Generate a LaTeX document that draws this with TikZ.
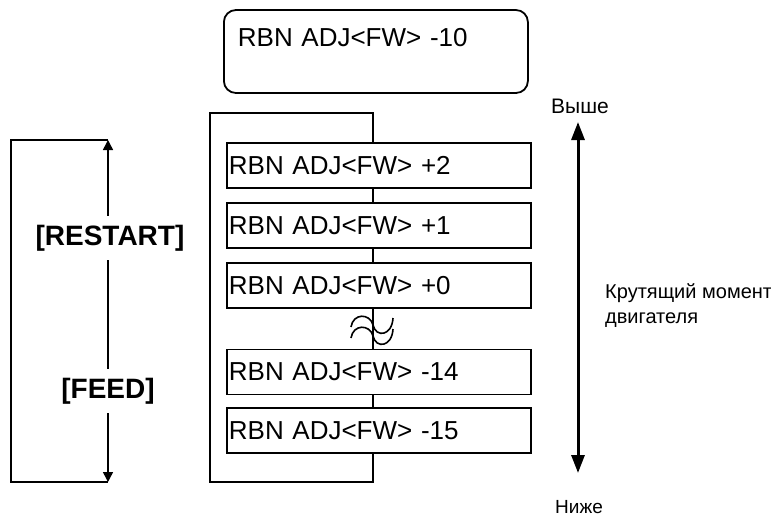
\documentclass[tikz,border=0pt]{standalone}
\usepackage{fontspec}
\setmainfont{Liberation Sans}
\usetikzlibrary{arrows.meta}
\begin{document}
\begin{tikzpicture}[x=1pt,y=-1pt,
  frameline/.style={line width=1.8pt},
  thinline/.style={line width=1.5pt},
  rbox/.style={draw, line width=1.8pt, fill=white, text width=300pt, align=left,
    inner xsep=2pt, inner ysep=0pt, minimum height=45pt,
    font=\fontsize{26}{30}\selectfont, anchor=west},
  topbox/.style={draw, line width=1.8pt, rounded corners=12pt, text width=276pt, align=left,
    inner xsep=14pt, inner ysep=0pt, text height=19pt, text depth=30pt, minimum height=83pt,
    font=\fontsize{26}{30}\selectfont, anchor=west},
  keylbl/.style={font=\fontsize{28}{32}\selectfont\bfseries, inner xsep=0pt, inner ysep=9pt, anchor=base},
  side/.style={font=\fontsize{20}{25}\selectfont, inner sep=0pt, anchor=base},
  smalltip/.tip={Triangle[width=10pt,length=10pt]},
  bigtip/.tip={Triangle[width=13pt,length=18pt]}]
\useasboundingbox (0,0) rectangle (771,517);

% top display
\node[topbox] (top) at (223,51.5) {RBN ADJ<FW> -10};

% frame coordinates
\coordinate (ftr) at (373,113);
\coordinate (ftl) at (210,113);
\coordinate (fbl) at (210,482);
\coordinate (fbr) at (373,482);

% boxes
\node[rbox] (b2) at (226,165.5) {RBN ADJ<FW> +2};
\node[rbox] (b1) at (226,225.5) {RBN ADJ<FW> +1};
\node[rbox] (b0) at (226,285.5) {RBN ADJ<FW> +0};
\node[rbox] (b14) at (226,372) {RBN ADJ<FW> -14};
\node[rbox] (b15) at (226,430.5) {RBN ADJ<FW> -15};

% frame and connectors
\draw[frameline] (b15.south -| fbr) -- (fbr) -- (fbl) -- (ftl) -- (ftr) -- (b2.north -| ftr);
\draw[frameline] (b2.south -| ftr) -- (b1.north -| ftr);
\draw[frameline] (b1.south -| ftr) -- (b0.north -| ftr);
\draw[frameline] (b0.south -| ftr) -- (b14.north -| ftr);
\draw[frameline] (b14.south -| ftr) -- (b15.north -| ftr);

% break symbol
\draw[line width=1.6pt] (351,327) .. controls (353,313) and (370,313) .. (373,325)
  .. controls (376,338) and (392,336) .. (393,318);
\draw[line width=1.6pt] (351,338) .. controls (353,324) and (370,324) .. (373,336)
  .. controls (376,349) and (392,347) .. (393,329);

% left bracket with keys
\coordinate (ltop) at (108,140);
\coordinate (lbot) at (108,482);
\coordinate (ltl) at (11,140);
\coordinate (lbl) at (11,482);
\node[keylbl] (rs) at (110,245) {[RESTART]};
\node[keylbl] (fd) at (108,398) {[FEED]};
\draw[thinline] (ltop) -- (ltl) -- (lbl) -- (lbot);
\draw[thinline, smalltip-] (ltop) -- (ltop |- rs.north);
\draw[thinline] (ltop |- rs.south) -- (ltop |- fd.north);
\draw[thinline, -smalltip] (ltop |- fd.south) -- (lbot);

% right torque arrow
\node[side, font=\fontsize{21}{25}\selectfont] (hi) at (580,113) {Выше};
\node[side, font=\fontsize{19}{23}\selectfont] (lo) at (579,513) {Ниже};
\coordinate (rtop) at (578,122);
\coordinate (rbot) at (578,473);
\draw[line width=3pt, bigtip-bigtip] (rtop) -- (rbot);
\node[side, anchor=west, align=left] (tq) at (605,305.5) {Крутящий момент\\двигателя};
\end{tikzpicture}
\end{document}
